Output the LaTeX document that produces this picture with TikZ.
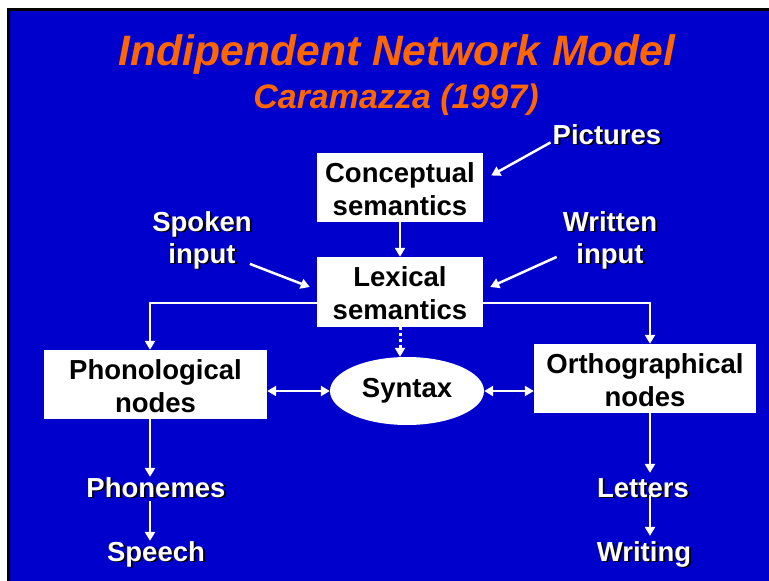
\documentclass[tikz,border=0pt]{standalone}
\usepackage{fontspec}
\setmainfont{Liberation Sans}
\usetikzlibrary{arrows.meta,shapes.geometric}
\definecolor{slideblue}{RGB}{0,0,204}
\definecolor{slideorange}{RGB}{255,102,0}

\begin{document}
\begin{tikzpicture}[x=1pt,y=-1pt]
  \def\LW{2.5pt}
  \def\SH{1.8}
  \def\TIP{Triangle[length=9pt,width=10pt]}

  \tikzset{
      box/.style={fill=white,minimum width=166pt,minimum height=69pt,
        inner sep=0pt,align=center,font=\bfseries\fontsize{27.5}{33}\selectfont},
      sidebox/.style={box,minimum width=223pt},
      lbl/.style={text=white,align=center,inner sep=0pt,anchor=base,
        font=\bfseries\fontsize{27.5}{32}\selectfont},
      lblshade/.style={lbl,text=black},
      heading/.style={text=slideorange,inner sep=0pt,anchor=base},
      arr/.style={white,line width=\LW,-{\TIP}},
      dblarr/.style={white,line width=\LW,{\TIP}-{\TIP}},
  }
  % white text with a black drop shadow
  \def\SHLBL#1#2#3{%
    \node[lblshade] (#1s) at ([shift={(\SH,\SH)}]#2) {#3};
    \node[lbl] (#1) at (#2) {#3};}

  \useasboundingbox (0,0) rectangle (769,581);
  \fill[white] (0,0) rectangle (769,581);
  \fill[black] (7,8) rectangle (769,581);
  \fill[slideblue] (10,11) rectangle (769,581);

  \node[heading,font=\bfseries\itshape\fontsize{42.6}{50}\selectfont] (TITLE)
    at (397,65) {Indipendent Network Model};
  \node[heading,font=\bfseries\itshape\fontsize{34}{40}\selectfont] (SUB)
    at (396,108) {Caramazza (1997)};

  \node[box] (CS) at (400,187.5) {\strut Conceptual\\semantics};
  \node[box,minimum height=70pt] (LS) at (400,292) {\strut Lexical\\semantics};
  \node[sidebox] (PN) at (155.5,384.5) {\strut Phonological\\nodes};
  \node[sidebox,minimum width=222pt] (ON) at (645,378.5)
    {\strut Orthographical\\nodes};
  \node[box,ellipse,minimum width=154pt,minimum height=68pt] (SY)
    at (407,391) {Syntax};

  \SHLBL{PIC}{607,144}{Pictures}
  \SHLBL{SPK}{202,263}{Spoken\\input}
  \SHLBL{WRT}{610,263}{Written\\input}
  \SHLBL{PHO}{156,497}{Phonemes}
  \SHLBL{SPE}{156,561}{Speech}
  \SHLBL{LET}{643,497}{Letters}
  \SHLBL{WRI}{644,561}{Writing}

  % inputs
  \draw[arr] ([shift={(-2,-2)}]PIC.south west) -- ([shift={(8,-12)}]CS.east);
  \draw[arr] ([shift={(-2,-5)}]SPK.south east) -- ([shift={(-7,-5)}]LS.west);
  \draw[arr] ([shift={(-6,-12)}]WRT.south west) -- ([shift={(7,-5)}]LS.east);
  \draw[arr] (CS.south) -- (LS.north);

  % lexical semantics to output nodes
  \coordinate (LX) at ([xshift=-5.5pt]PN.south);
  \coordinate (RX) at ([xshift=5pt]ON.south);
  \draw[arr] ([shift={(0,11)}]LS.west) -| (LX |- PN.north);
  \draw[arr] ([shift={(0,11)}]LS.east) -| (RX |- ON.north);
  \draw[arr,dash pattern=on 3pt off 3pt,line width=3pt] (LS.south)
    -- (LS.south |- SY.north);

  \draw[dblarr] (SY.west -| PN.east) -- (SY.west);
  \draw[dblarr] (SY.east) -- (SY.east -| ON.west);

  % down to the outputs
  \draw[arr] (LX) -- (LX |- PHO.north);
  \draw[arr] ([yshift=-4pt]PHO.south -| LX) -- (SPE.north -| LX);
  \draw[arr] (RX) -- ([yshift=5pt]LET.north -| RX);
  \draw[arr] ([yshift=2pt]LET.south -| RX) -- ([yshift=5pt]WRI.north -| RX);
\end{tikzpicture}
\end{document}
